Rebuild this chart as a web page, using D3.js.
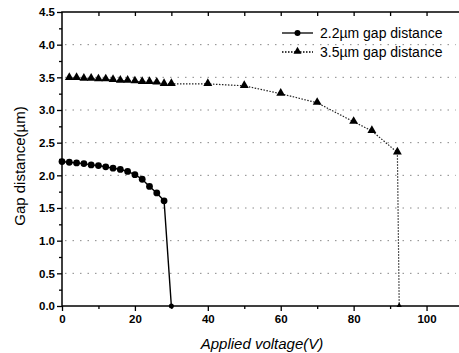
<!DOCTYPE html>
<html>
<head>
<meta charset="utf-8">
<script src="https://cdn.jsdelivr.net/npm/d3@7"></script>
<style>
  body { margin: 0; background: #fff; }
  svg { display: block; font-family: "Liberation Sans", Arial, sans-serif; }
</style>
</head>
<body>
<div id="chart"></div>
<script>
// series 1: 2.2um gap
const voltage22 = [0, 2, 4, 6, 8, 10, 12, 14, 16, 18, 20, 22, 24, 26, 28, 30];
const gap22 = [2.21, 2.20, 2.19, 2.18, 2.16, 2.15, 2.13, 2.11, 2.09, 2.06, 2.01, 1.94, 1.83, 1.73, 1.61, 0];
// series 2: 3.5um gap
const voltage35 = [2, 4, 6, 8, 10, 12, 14, 16, 18, 20, 22, 24, 26, 28, 30, 40, 50, 60, 70, 80, 85, 92, 92.5];
const gap35 = [3.49, 3.49, 3.48, 3.48, 3.47, 3.47, 3.46, 3.45, 3.45, 3.44, 3.43, 3.43, 3.42, 3.40, 3.40, 3.40, 3.37, 3.25, 3.11, 2.82, 2.68, 2.35, 0];
const seriesNames = ["2.2\u00b5m gap distance", "3.5\u00b5m gap distance"];
const xTicks = [0, 20, 40, 60, 80, 100];
const yTicks = [0, 0.5, 1.0, 1.5, 2.0, 2.5, 3.0, 3.5, 4.0, 4.5];

const W = 459, H = 353;
const x = d3.scaleLinear().domain([0, 110]).range([62, 463]);
const y = d3.scaleLinear().domain([0, 4.5]).range([306, 12]);

const svg = d3.select('#chart').append('svg')
  .attr('width', W).attr('height', H);

// dotted grid
svg.append('g')
  .selectAll('line')
  .data(yTicks.filter(t => t > 0 && t < 4.5))
  .enter().append('line')
  .attr('x1', x(0) + 3).attr('x2', x(108))
  .attr('y1', d => y(d)).attr('y2', d => y(d))
  .attr('stroke', '#888')
  .attr('stroke-width', 1)
  .attr('stroke-dasharray', '1.5,6');

// frame
svg.append('rect')
  .attr('x', x(0)).attr('y', y(4.5))
  .attr('width', x(110) - x(0)).attr('height', y(0) - y(4.5))
  .attr('fill', 'none').attr('stroke', '#000').attr('stroke-width', 1.5);

// axes
const xAxis = d3.axisBottom(x).tickValues(xTicks).tickSize(5).tickPadding(4)
  .tickFormat(d3.format('d'));
const gx = svg.append('g').attr('transform', `translate(0,${y(0)})`).call(xAxis);
svg.append('g').attr('transform', `translate(0,${y(0)})`)
  .call(d3.axisBottom(x).tickValues(d3.range(10, 110, 20)).tickSize(3).tickFormat(''));

const yAxis = d3.axisLeft(y).tickValues(yTicks).tickSize(5).tickPadding(2)
  .tickFormat(d3.format('.1f'));
const gy = svg.append('g').attr('transform', `translate(${x(0)},0)`).call(yAxis);
svg.append('g').attr('transform', `translate(${x(0)},0)`)
  .call(d3.axisLeft(y).tickValues(d3.range(0.25, 4.5, 0.5)).tickSize(3).tickFormat(''));

// top / right inward ticks
svg.append('g').attr('transform', `translate(0,${y(4.5)})`)
  .call(d3.axisBottom(x).tickValues(d3.range(10, 110, 10)).tickSize(4).tickFormat(''));
svg.append('g').attr('transform', `translate(${x(110)},0)`)
  .call(d3.axisRight(y).tickValues(d3.range(0.5, 4.5, 0.5)).tickSize(-4).tickFormat(''));

svg.selectAll('.domain').remove();
svg.selectAll('.tick line').attr('stroke', '#000').attr('stroke-width', 1.3);
gx.selectAll('text').attr('font-size', 11.5).attr('font-weight', 'bold').attr('fill', '#000');
gy.selectAll('text').attr('font-size', 11.5).attr('font-weight', 'bold').attr('fill', '#000');

// axis titles
svg.append('text')
  .attr('x', 262).attr('y', 349)
  .attr('text-anchor', 'middle')
  .attr('font-size', 15).attr('font-style', 'italic')
  .text('Applied voltage(V)');
svg.append('text')
  .attr('transform', 'translate(25,166) rotate(-90)')
  .attr('text-anchor', 'middle')
  .attr('font-size', 15)
  .text('Gap distance(\u00b5m)');

// lines
const line = d3.line().x(d => x(d[0])).y(d => y(d[1]));
const pts22 = voltage22.map((v, i) => [v, gap22[i]]);
const pts35 = voltage35.map((v, i) => [v, gap35[i]]);

svg.append('path').datum(pts22).attr('d', line)
  .attr('fill', 'none').attr('stroke', '#000').attr('stroke-width', 1.4);
svg.append('path').datum(pts35).attr('d', line)
  .attr('fill', 'none').attr('stroke', '#222').attr('stroke-width', 1.2)
  .attr('stroke-dasharray', '1.5,1.5');

// markers
svg.append('g').selectAll('circle').data(pts22).enter().append('circle')
  .attr('cx', d => x(d[0])).attr('cy', d => y(d[1]))
  .attr('r', (d, i) => i === pts22.length - 1 ? 2.5 : 3.4)
  .attr('fill', '#000');
const tri = d3.symbol().type(d3.symbolTriangle);
svg.append('g').selectAll('path').data(pts35).enter().append('path')
  .attr('d', (d, i) => tri.size(i === pts35.length - 1 ? 12 : 34)())
  .attr('transform', d => `translate(${x(d[0])},${y(d[1]) - 0.5})`)
  .attr('fill', '#000');

// legend
const legendRows = [
  { name: seriesNames[0], dash: null, sym: 'circle' },
  { name: seriesNames[1], dash: '1.5,1.5', sym: 'triangle' }
];
const lg = svg.append('g').selectAll('g').data(legendRows).enter().append('g')
  .attr('transform', (d, i) => `translate(0,${33 + i * 19})`);
lg.append('line')
  .attr('x1', 282).attr('x2', 313).attr('y1', 0).attr('y2', 0)
  .attr('stroke', '#000').attr('stroke-width', 1.3)
  .attr('stroke-dasharray', d => d.dash);
lg.filter(d => d.sym === 'circle').append('circle')
  .attr('cx', 297.5).attr('cy', 0).attr('r', 3).attr('fill', '#000');
lg.filter(d => d.sym === 'triangle').append('path')
  .attr('d', tri.size(28)())
  .attr('transform', 'translate(297.5,-0.5)').attr('fill', '#000');
lg.append('text')
  .attr('x', 320).attr('y', 5)
  .attr('font-size', 14)
  .text(d => d.name);
</script>
</body>
</html>
